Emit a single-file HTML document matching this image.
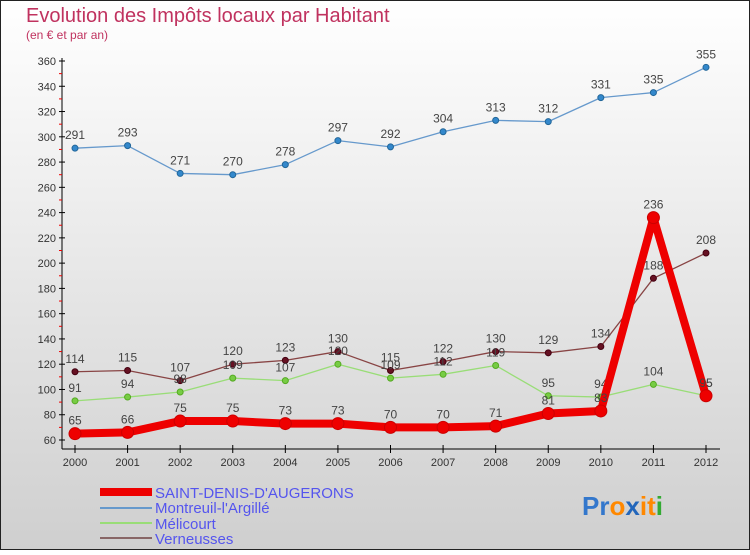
<!DOCTYPE html>
<html><head><meta charset="utf-8"><style>
html,body{margin:0;padding:0}
body{width:750px;height:550px;overflow:hidden;font-family:"Liberation Sans",sans-serif}
</style></head><body>
<svg width="750" height="550" xmlns="http://www.w3.org/2000/svg" id="svg">
<defs><linearGradient id="bg" x1="0" y1="0" x2="0" y2="1"><stop offset="0" stop-color="#ffffff"/><stop offset="1" stop-color="#cfcfcf"/></linearGradient></defs>
<rect x="0.5" y="0.5" width="749" height="549" fill="url(#bg)" stroke="#222" stroke-width="1"/>
<text x="26" y="22" font-size="20" fill="#c0325f">Evolution des Impôts locaux par Habitant</text>
<text x="26" y="39" font-size="12" fill="#c0325f">(en € et par an)</text>
<g id="axes"></g>
<g id="series"></g>
<g font-size="15">
<rect x="100" y="488" width="52" height="8" fill="#ee0000"/>
<text x="155" y="498" fill="#5555ee">SAINT-DENIS-D'AUGERONS</text>
<rect x="100" y="507" width="52" height="2" fill="#6699cc"/>
<text x="155" y="513" fill="#5555ee">Montreuil-l'Argillé</text>
<rect x="100" y="522" width="52" height="2" fill="#99dd77"/>
<text x="155" y="529" fill="#5555ee">Mélicourt</text>
<rect x="100" y="537" width="52" height="2" fill="#886666"/>
<text x="155" y="544" fill="#5555ee">Verneusses</text>
</g>
<g font-size="26" font-weight="bold">
<text x="582" y="515"><tspan fill="#3377cc">Pr</tspan><tspan fill="#ff8800">o</tspan><tspan fill="#2266bb">x</tspan><tspan fill="#ff8800">i</tspan><tspan fill="#ff8800">t</tspan><tspan fill="#33aa33">i</tspan></text>
</g>
</svg>
<script>
const years=["2000","2001","2002","2003","2004","2005","2006","2007","2008","2009","2010","2011","2012"];
const yTicks=[60,80,100,120,140,160,180,200,220,240,260,280,300,320,340,360];
const montreuil=[291,293,271,270,278,297,292,304,313,312,331,335,355];
const saintDenis=[65,66,75,75,73,73,70,70,71,81,83,236,95];
const melicourt=[91,94,98,109,107,120,109,112,119,95,94,104,95];
const verneusses=[114,115,107,120,123,130,115,122,130,129,134,188,208];
const NS="http://www.w3.org/2000/svg";
const x=i=>75+i*(706-75)/12;
const y=v=>440-(v-60)*(440-61)/300;
function mk(tag,attrs,parent){const e=document.createElementNS(NS,tag);for(const k in attrs)e.setAttribute(k,attrs[k]);parent.appendChild(e);return e;}
const ax=document.getElementById('axes');
mk('line',{x1:62,y1:58,x2:62,y2:449,stroke:'#000','stroke-width':1},ax);
mk('line',{x1:62,y1:449,x2:720,y2:449,stroke:'#000','stroke-width':1},ax);
yTicks.forEach(v=>{
 const t=mk('line',{x1:59,x2:65,y1:y(v),y2:y(v),stroke:'#000'},ax);
 
 
 const l=mk('text',{x:56,y:y(v)+4,'font-size':11,fill:'#333','text-anchor':'end'},ax);
 
 
 l.textContent=v;
 if(v<360){const m=mk('line',{x1:59,x2:62,y1:y(v+10),y2:y(v+10),stroke:'#e00'},ax);
 
 }
});
years.forEach((yr,i)=>{
 const t=mk('line',{x1:x(i),x2:x(i),y1:445,y2:453,stroke:'#000'},ax);
 
 
 const l=mk('text',{x:x(i),y:466,'font-size':11,fill:'#333','text-anchor':'middle'},ax);
 
 
 l.textContent=yr;
});
const sg=document.getElementById('series');
function series(name,data,color,w,r,dot,dotStroke){
 const g=mk('g',{},sg);
 
 
 const p=mk('polyline',{points:data.map((v,i)=>x(i)+','+y(v)).join(' '),fill:'none',stroke:color,'stroke-width':w,'stroke-linejoin':'round'},g);
 
 
 data.forEach((v,i)=>{
  const c=mk('circle',{cx:x(i),cy:y(v),r:r,fill:dot,stroke:dotStroke,'stroke-width':1},g);
  
  
  const t=mk('text',{x:x(i),y:y(v)-9,'font-size':12,fill:'#444','text-anchor':'middle'},g);
  
  
  t.textContent=v;
 });
}
series('montreuil',montreuil,'#6699cc',1.3,3,'#3388cc','#226699');
series('verneusses',verneusses,'#884444',1.3,3,'#661122','#440011');
series('melicourt',melicourt,'#99dd77',1.3,3,'#77cc44','#55aa22');
series('saint-denis',saintDenis,'#ee0000',8,6,'#ee0000','#cc0000');
</script>
</body></html>
